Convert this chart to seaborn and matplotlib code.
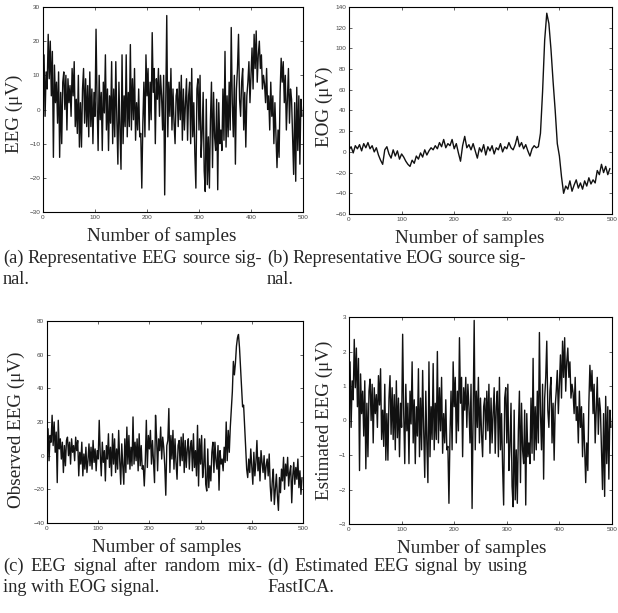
import numpy as np
import pandas as pd
import matplotlib
matplotlib.use("Agg")
import matplotlib.pyplot as plt
import seaborn as sns

# values, one value every 2 samples (EEG) / 4 samples (EOG)
eeg_source = [8, 16, -2, 11, 6, 22, 9, 20, 4, 17,
              -14, 13, 2, 8, -4, 11, -14, 5, -10, 8,
              11, 0, 10, -6, 9, 2, 7, -2, 12, 4,
              14, -5, 3, -7, 10, -11, 2, -11, 6, 12,
              -4, 9, -5, 7, -8, 11, -5, 6, -10, 5,
              -2, 23.5, 2, -12, 10, -3, 5, -12, 8, -1,
              16, -6, 6, -12, 4, -4, 14, -10, 6, -8,
              14, -3, -16, 8, -6, -17.5, 16, -10, 4, -5,
              16, -8, 5, -5, 19, -6, 9, -3, 12, -9,
              2, -6, 6, -8, -7, -23, -4, 8, -8, 16,
              4, 12, -6, 8, -3, 22.5, 5, 12, -10, 9,
              3, 12, -2, 10, 4, -6, 10, -25, 2, 27.5,
              -8, 8, -2, 12, -6, 6, -4, -10, 4, 6,
              -5, 8, -3, 10, -9, 6, -6, 2, 9, -9,
              4, 8, -10, 12, -8, 2, -13, -23, 6, 9,
              -6, 10, -14, -7, 5, -18, -24, 3, -22, -8,
              -23, -3, 8, -17, 5, -8, -12, 3, -23.5, 2,
              -10, -6, -12, 6, -9, 17, -11, 4, -8, 8,
              -6, 24, 2, -8, 10, -16, 6, 12, 22, 3,
              -2, 8, 12, -6, 5, -11, 4, 8, 14, 2,
              10, 18, 6, 22, 12, 23, 8, 16, 20, 12,
              16, 6, 10, 7.5, 2, 12, 0, 4, -6, 8,
              -2, 4, -10, 2, -8, -17, -6, -14, 5, 15,
              8, 14, 2, 10, -6, 3, 12, -4, 6, 3,
              -8, -19, 2, -21, 6.5, -12, 4, -16, 3, -2]

eog_source = [2, 5, -1, 6, 3, 7, 1, 8, 4, 9,
              3, 6, 0, 4, -3, -8, -12, 2, 5, -2,
              -6, 2, -4, 1, -7, -2, -5, -9, -12, -14,
              -8, -11, -4, -7, -1, -5, 2, -3, 1, 4,
              2, 6, 3, 9, 5, 12, 4, 8, 6, 12,
              3, 8, -1, -9, 6, 15, 4, 7, 2, 8,
              1, -6, 4, 0, 7, -3, 5, 1, 6, -2,
              4, 2, 8, 0, 5, 3, 9, 4, 2, 7,
              15, 5, 9, 3, 7, 1, -4, 3, 6, 4,
              5, 18, 58, 108, 134, 124, 99, 68, 40, 8,
              -4, -24, -40, -33, -36, -28, -38, -32, -27, -35,
              -30, -36, -28, -33, -25, -31, -27, -30, -18, -22,
              -12, -20, -14, -22, -16]

eeg_observed = [5, 16, -3, 12, 8, 24, 6, 20, 2, 14,
                -16, 21, 4, 10, -2, 8, -10, 6, -6, 9,
                11, 0, 8, -5, 10, 2, 6, -3, 11, 3,
                9, -12, 2, -5, 8, -12, 1, -8, 5, -10,
                -3, 7, -6, 5, -8, 9, -4, 4, -9, 3,
                -2, 21, 1, -12, 8, -4, 3, -15, 6, -2,
                13, -7, 5, -12, 13, -5, 10, -10, 4, -8,
                15, -3, -17, 7, -6, -17, 10, -10, 17, -5,
                12, -8, 5, -6, 23, -5, 8, -3, 10, -9,
                13, -6, 6, -8, -6, -18, -3, 21, -7, 12,
                4, 15, -5, 9, -3, -16, 24, 11, -9, 10,
                3, 17, -2, 11, 5, -6, -23.5, 6, 9, 28,
                -10, 12, -2, 15, -8, 10, -4, -14, 6, 9,
                -6, 11, -3, 13, -10, 9, -7, 4, 10, -8,
                5, 9, -9, 13, -7, 3, -12, 18, -18, 10,
                -5, 12, -13, -6, 10, -17, -21, 4, -19, -6,
                -15, 2, 8, -10, 8, -3, -8, 6, -20.5, 3,
                -5, -2, -9, 5, -4, 20, -3, 15, 2, 17,
                27, 38, 56, 48, 55, 65, 70, 72, 64, 52,
                40, 29, 30, 18, 5, -8, -13, -2, -10, 4,
                -6, -17, 2, -12, -4, 9, -9, -1, -15, 3,
                -4, -10, 0, -14, -6, -2, -12, 1, -18, -27,
                -15, -8, -29, -20, -11, -24, -32.5, -13, -22, -8,
                -15, -1, -20, -5, -12, -1, -18, -10, -6, -28,
                -12, -4, -17, -7, -14, -2, -19, -9, -23, -13]

eeg_estimated = [0.85, 1.7, -0.2, 1.15, 0.6, 2.35, 0.95, 2.1, 0.4, 1.8,
                 -1.45, 1.35, 0.2, 0.85, -0.45, 1.15, -1.4, 0.5, -1.05, 0.85,
                 1.2, 0.0, 1.05, -0.65, 0.95, 0.2, 0.75, -0.2, 1.3, 0.45,
                 1.5, -0.55, 0.3, -0.75, 1.05, -1.15, 0.2, -1.15, 0.65, 1.3,
                 -0.4, 0.95, -0.55, 0.75, -0.85, 1.15, -0.5, 0.65, -1.05, 0.5,
                 -0.2, 2.5, 0.2, -1.25, 1.05, -0.3, 0.5, -1.25, 0.85, -0.1,
                 1.7, -0.65, 0.6, -1.25, 0.4, -0.45, 1.5, -1.05, 0.65, -0.85,
                 1.45, -0.3, -1.65, 0.85, -0.65, -1.8, 1.7, -1.05, 0.4, -0.55,
                 1.65, -0.85, 0.5, -0.55, 2.0, -0.65, 0.95, -0.3, 1.25, -0.95,
                 0.2, -0.65, 0.6, -0.85, -0.75, -2.4, -0.4, 0.85, -0.85, 1.7,
                 0.4, 1.25, -0.65, 0.85, -0.3, 2.4, 0.5, 1.25, -1.05, 0.95,
                 0.3, 1.25, -0.2, 1.05, 0.4, -0.65, 1.05, -2.55, 0.2, 2.9,
                 -0.85, 0.85, -0.2, 1.25, -0.65, 0.65, -0.4, -1.05, 0.4, 0.65,
                 -0.55, 0.85, -0.3, 1.05, -0.95, 0.65, -0.65, 0.2, 0.95, -0.95,
                 0.4, 0.85, -1.05, 1.25, -0.85, 0.2, -1.35, -2.45, 0.65, 0.95,
                 -0.65, 1.05, -1.45, -0.75, 0.5, -1.9, -2.5, 0.3, -2.3, -0.85,
                 -2.4, -0.3, 0.85, -1.8, 0.5, -0.85, -1.25, 0.3, -2.45, 0.2,
                 -1.05, -0.65, -1.25, 0.65, -0.95, 1.8, -1.15, 0.4, -0.85, 0.85,
                 -0.65, 2.55, 0.2, -0.85, 1.05, -1.7, 0.65, 1.25, 2.3, 0.3,
                 -0.2, 0.85, 1.25, -0.65, 0.5, -1.15, 0.4, 0.85, 1.45, 0.2,
                 1.05, 1.9, 0.65, 2.3, 1.25, 2.4, 0.85, 1.7, 2.1, 1.25,
                 1.7, 0.65, 1.05, 0.8, 0.2, 1.25, 0.0, 0.4, -0.65, 0.85,
                 -0.2, 0.4, -1.05, 0.2, -0.85, -1.8, -0.65, -1.45, 0.5, 1.6,
                 0.85, 1.45, 0.2, 1.05, -0.65, 0.3, 1.25, -0.4, 0.65, 0.3,
                 -0.85, -2.0, 0.2, -2.2, 0.7, -1.25, 0.4, -1.7, 0.3, -0.2]

x_ticks = [0, 100, 200, 300, 400, 500]
y_labels = ["EEG (μV)", "EOG (μV)", "Observed EEG (μV)", "Estimated EEG (μV)"]
captions = [["(a) Representative EEG source sig-", "nal."],
            ["(b) Representative EOG source sig-", "nal."],
            ["(c) EEG signal after random mix-", "ing with EOG signal."],
            ["(d) Estimated EEG signal by using", "FastICA."]]

sns.set_style("ticks", {"xtick.direction": "in", "ytick.direction": "in"})
plt.rcParams['font.family'] = ['Liberation Sans', 'DejaVu Sans']

W, H = 618, 613
fig = plt.figure(figsize=(W / 100, H / 100), dpi=100)

def box(l, t, r, b):
    return [l / W, 1 - b / H, (r - l) / W, (b - t) / H]

panels = [
    (eeg_source, 2, box(43, 7, 303, 212), (-30, 30), 10, -0.077, 0.48, 0.458),
    (eog_source, 4, box(349, 7, 612, 214), (-60, 140), 20, -0.061, 0.52, 0.46),
    (eeg_observed, 2, box(47, 321, 303, 523), (-40, 80), 20, -0.086, 0.46, 0.469),
    (eeg_estimated, 2, box(349, 317, 612, 524), (-3, 3), 1, -0.061, 0.5, 0.466),
]

serif = 'Liberation Serif'
for i, (vals, step, rect, ylim, ystep, ylx, yly, xlx) in enumerate(panels):
    ax = fig.add_axes(rect)
    df = pd.DataFrame({"sample": np.arange(len(vals)) * step, "value": vals})
    sns.lineplot(data=df, x="sample", y="value", ax=ax, color="#111111",
                 linewidth=1.0, estimator=None)
    ax.set_xlim(0, 500)
    ax.set_ylim(*ylim)
    ax.set_xticks(x_ticks)
    ax.set_yticks(np.arange(ylim[0], ylim[1] + ystep / 2, ystep))
    ax.tick_params(direction="in", length=2.2, width=0.5, labelsize=4.6,
                   labelcolor="#444444", pad=2, top=True, right=True)
    for s in ax.spines.values():
        s.set_visible(True)
        s.set_linewidth(0.8)
        s.set_color("black")
    ax.set_xlabel("Number of samples", family=serif, fontsize=13.8)
    ax.set_ylabel(y_labels[i], family=serif, fontsize=13.8)
    ax.yaxis.set_label_coords(ylx, yly)
    ax.xaxis.set_label_coords(xlx, -15.0 / (rect[3] * H))
    ax.xaxis.label.set_va("top")

# captions, first line justified across the column
renderer = fig.canvas.get_renderer()
cap_pos = [(3, 262, 263, 284), (267, 526, 263, 284),
           (3, 262, 571, 592), (267, 528, 571, 592)]
for (x0, x1, y1, y2), lines in zip(cap_pos, captions):
    words = lines[0].split(" ")
    texts = [fig.text(0, 1 - y1 / H, w, family=serif, fontsize=13.2, va="baseline")
             for w in words]
    widths = [t.get_window_extent(renderer).width for t in texts]
    gap = (x1 - x0 - sum(widths)) / (len(words) - 1)
    pos = x0
    for t, w in zip(texts, widths):
        t.set_x(pos / W)
        pos += w + gap
    fig.text(x0 / W, 1 - y2 / H, lines[1], family=serif, fontsize=13.2,
             va="baseline")

fig.savefig("out.png", dpi=100)
